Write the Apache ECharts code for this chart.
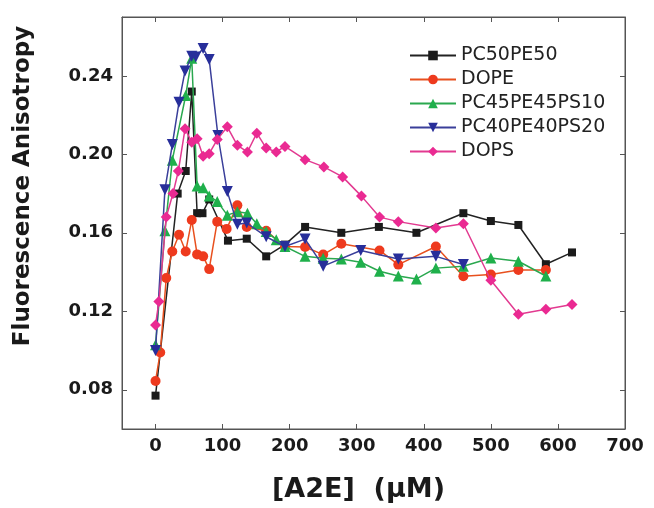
<!DOCTYPE html>
<html><head><meta charset="utf-8">
<script src="https://cdn.jsdelivr.net/npm/echarts@6/dist/echarts.min.js"></script>
<style>html,body{margin:0;padding:0;background:#fff}#c{width:654px;height:508px}</style>
</head><body><div id="c"></div>
<script>
const xTicks = [0, 100, 200, 300, 400, 500, 600, 700];
const yTicks = [0.08, 0.12, 0.16, 0.20, 0.24];
const seriesNames = ['PC50PE50', 'DOPE', 'PC45PE45PS10', 'PC40PE40PS20', 'DOPS'];

const pc50X = [0, 33, 45, 54, 62, 70, 80, 108, 136, 165, 193, 223, 277, 333, 389, 459, 500, 541, 582, 621];
const pc50Y = [0.077, 0.180, 0.1915, 0.232, 0.170, 0.170, 0.177, 0.156, 0.157, 0.148, 0.154, 0.163, 0.160, 0.163, 0.160, 0.170, 0.166, 0.164, 0.144, 0.150];

const dopeX = [0, 7, 16, 25, 35, 45, 54, 62, 71, 80, 92, 106, 122, 136, 165, 193, 223, 250, 277, 334, 362, 418, 459, 500, 541, 582];
const dopeY = [0.0845, 0.099, 0.137, 0.1505, 0.159, 0.1505, 0.1665, 0.149, 0.148, 0.1415, 0.1657, 0.162, 0.174, 0.163, 0.161, 0.153, 0.1528, 0.1489, 0.1544, 0.151, 0.1438, 0.153, 0.1379, 0.1387, 0.141, 0.141];

const ps10X = [0, 14, 25, 45, 54, 62, 71, 80, 92, 107, 122, 137, 151, 165, 180, 193, 223, 250, 277, 306, 334, 362, 389, 418, 459, 500, 541, 582];
const ps10Y = [0.103, 0.161, 0.197, 0.230, 0.249, 0.1838, 0.183, 0.1787, 0.176, 0.169, 0.1707, 0.170, 0.1646, 0.1607, 0.1565, 0.153, 0.148, 0.147, 0.1467, 0.145, 0.1404, 0.138, 0.1365, 0.142, 0.143, 0.1472, 0.1455, 0.138];

const ps20X = [0, 14, 25, 35, 44, 54, 60, 71, 80, 93, 107, 122, 136, 165, 193, 223, 250, 306, 362, 418, 459];
const ps20Y = [0.100, 0.182, 0.205, 0.2265, 0.2425, 0.250, 0.2496, 0.254, 0.2484, 0.2096, 0.181, 0.1644, 0.165, 0.158, 0.153, 0.1568, 0.143, 0.151, 0.1467, 0.148, 0.1438];

const dopsX = [0, 5, 16, 26, 34, 44, 54, 62, 71, 80, 92, 107, 122, 137, 151, 165, 180, 193, 223, 251, 279, 307, 334, 362, 418, 459, 500, 541, 582, 621];
const dopsY = [0.113, 0.125, 0.168, 0.180, 0.1915, 0.213, 0.2062, 0.208, 0.199, 0.2003, 0.2075, 0.214, 0.2046, 0.2012, 0.2108, 0.2032, 0.2012, 0.204, 0.1973, 0.1936, 0.1885, 0.1787, 0.168, 0.1657, 0.1624, 0.1646, 0.1358, 0.1185, 0.121, 0.1235];

function pairs(xs, ys) { return xs.map((x, i) => [x, ys[i]]); }

const styles = [
  { color: '#1b1b1b', line: '#222222', symbol: 'rect', size: 8, rotate: 0 },
  { color: '#ee3a1e', line: '#e8501e', symbol: 'circle', size: 10, rotate: 0 },
  { color: '#1fb04b', line: '#2aa84f', symbol: 'triangle', size: 11, rotate: 0 },
  { color: '#272e9a', line: '#3a3f9a', symbol: 'triangle', size: 11, rotate: 180 },
  { color: '#ea2a92', line: '#e23a90', symbol: 'diamond', size: 11, rotate: 0 }
];
const dataSets = [pairs(pc50X, pc50Y), pairs(dopeX, dopeY), pairs(ps10X, ps10Y), pairs(ps20X, ps20Y), pairs(dopsX, dopsY)];

const axisColor = '#555';
const labelFont = { fontFamily: 'DejaVu Sans', fontWeight: 'bold', fontSize: 18, color: '#1a1a1a' };

const chart = echarts.init(document.getElementById('c'), null, { renderer: 'canvas' });
chart.setOption({
  animation: false,
  backgroundColor: '#fff',
  grid: { left: 122, right: 29, top: 17, bottom: 77, show: true, borderColor: axisColor, borderWidth: 1 },
  legend: {
    orient: 'vertical', left: 404, top: 41,
    itemWidth: 46, itemHeight: 12, itemGap: 5,
    data: seriesNames,
    textStyle: { fontFamily: 'DejaVu Sans', fontSize: 19, color: '#222', lineHeight: 18 }
  },
  xAxis: [{
    type: 'value', min: -50, max: 700, position: 'bottom',
    axisLine: { show: true, onZero: false, lineStyle: { color: axisColor, width: 1 } },
    axisTick: { show: true, inside: true, length: 5, customValues: xTicks, lineStyle: { color: axisColor } },
    axisLabel: Object.assign({ customValues: xTicks, margin: 8 }, labelFont),
    splitLine: { show: false },
    name: '[A2E]  (\u03bcM)', nameLocation: 'middle', nameGap: 47,
    nameTextStyle: { fontFamily: 'DejaVu Sans', fontWeight: 'bold', fontSize: 27, color: '#1a1a1a', padding: [0, 30, 0, 0] }
  }, {
    type: 'value', min: -50, max: 700, position: 'top',
    axisLine: { show: true, onZero: false, lineStyle: { color: axisColor, width: 1 } },
    axisTick: { show: true, inside: true, length: 5, customValues: xTicks, lineStyle: { color: axisColor } },
    axisLabel: { show: false }, splitLine: { show: false }
  }],
  yAxis: [{
    type: 'value', min: 0.06, max: 0.27, position: 'left',
    axisLine: { show: true, onZero: false, lineStyle: { color: axisColor, width: 1 } },
    axisTick: { show: true, inside: true, length: 5, customValues: yTicks, lineStyle: { color: axisColor } },
    axisLabel: Object.assign({ customValues: yTicks, margin: 9, formatter: v => v.toFixed(2) }, labelFont),
    splitLine: { show: false },
    name: 'Fluorescence Anisotropy', nameLocation: 'middle', nameGap: 87, nameRotate: 90,
    nameTextStyle: { fontFamily: 'DejaVu Sans', fontWeight: 'bold', fontSize: 23, color: '#1a1a1a', padding: [0, 0, 0, 74] }
  }, {
    type: 'value', min: 0.06, max: 0.27, position: 'right',
    axisLine: { show: true, onZero: false, lineStyle: { color: axisColor, width: 1 } },
    axisTick: { show: true, inside: true, length: 5, customValues: yTicks, lineStyle: { color: axisColor } },
    axisLabel: { show: false }, splitLine: { show: false }
  }],
  series: seriesNames.map((name, i) => ({
    name: name, type: 'line', xAxisIndex: 0, yAxisIndex: 0,
    data: dataSets[i],
    symbol: styles[i].symbol, symbolSize: styles[i].size, symbolRotate: styles[i].rotate,
    showAllSymbol: true,
    lineStyle: { color: styles[i].line, width: 1.5 },
    itemStyle: { color: styles[i].color },
    z: 2 + i
  }))
});
</script></body></html>
